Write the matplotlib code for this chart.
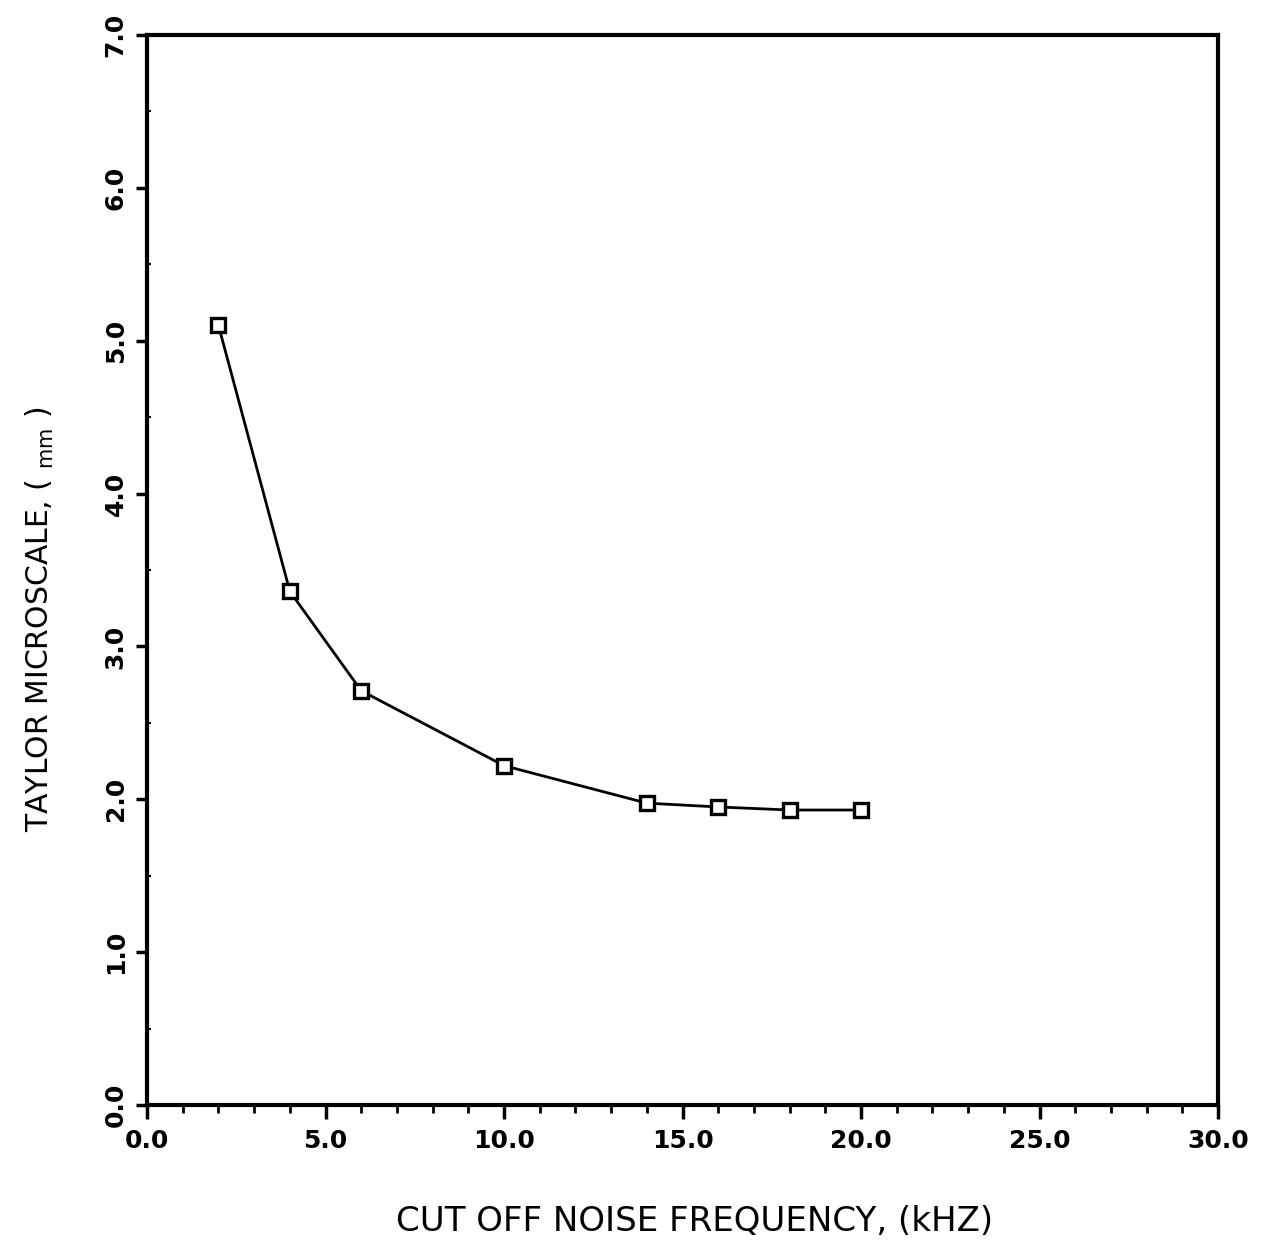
import matplotlib
matplotlib.use("Agg")
import matplotlib.pyplot as plt
from matplotlib.ticker import MultipleLocator, FormatStrFormatter

freq_khz = [2, 4, 6, 10, 14, 16, 18, 20]
taylor_mm = [5.10, 3.36, 2.71, 2.22, 1.975, 1.95, 1.93, 1.93]

x_ticks = [0, 5, 10, 15, 20, 25, 30]
y_ticks = [0, 1, 2, 3, 4, 5, 6, 7]

fig = plt.figure(figsize=(12.68, 12.43), dpi=100)
ax = fig.add_axes([0.116, 0.111, 0.8446, 0.8608])

ax.plot(freq_khz, taylor_mm, color='black', lw=2.0, marker='s', markersize=10,
        markerfacecolor='white', markeredgecolor='black', markeredgewidth=2.4)

ax.set_xlim(0, 30)
ax.set_ylim(0, 7)
ax.set_xticks(x_ticks)
ax.set_yticks(y_ticks)
ax.xaxis.set_major_formatter(FormatStrFormatter('%.1f'))
ax.yaxis.set_major_formatter(FormatStrFormatter('%.1f'))
ax.xaxis.set_minor_locator(MultipleLocator(1))
ax.yaxis.set_minor_locator(MultipleLocator(0.5))

for s in ax.spines.values():
    s.set_linewidth(3)
ax.tick_params(axis='x', which='major', direction='out', length=10, width=2.5,
               labelsize=18, pad=7)
ax.tick_params(axis='x', which='minor', direction='out', length=6, width=2)
ax.tick_params(axis='y', which='major', direction='out', length=8, width=2.5,
               labelsize=18, pad=6)
ax.tick_params(axis='y', which='minor', direction='in', length=3, width=1.5)
for lab in ax.get_xticklabels():
    lab.set_fontweight('bold')
for lab in ax.get_yticklabels():
    lab.set_fontweight('bold')
    lab.set_rotation(90)
    lab.set_va('center')

ax.set_xlabel('CUT OFF NOISE FREQUENCY, (kHZ)', fontsize=24.5)
ax.xaxis.set_label_coords(0.511, -0.093)
ax.set_ylabel(r'TAYLOR MICROSCALE, ( $_{\mathrm{mm}}$ )', fontsize=21.5)
ax.yaxis.set_label_coords(-0.085, 0.454)

fig.savefig('out.png', dpi=100)
